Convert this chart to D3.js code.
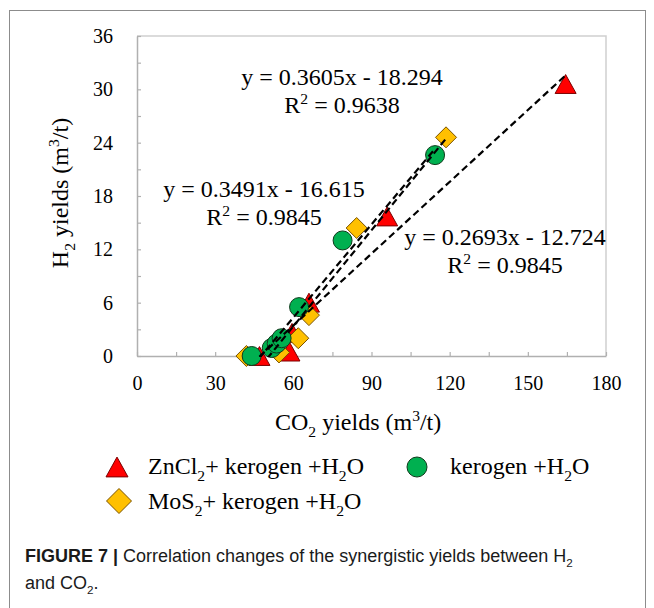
<!DOCTYPE html>
<html><head><meta charset="utf-8">
<script src="https://cdn.jsdelivr.net/npm/d3@7"></script>
<style>body{margin:0;background:#fff}svg{display:block}</style>
</head><body>
<svg id="chart" width="654" height="608"></svg>
<script>
// ---- data ----
const xTickLabels = [0, 30, 60, 90, 120, 150, 180];
const yTickLabels = [0, 6, 12, 18, 24, 30, 36];
const seriesNames = ["ZnCl2+ kerogen +H2O", "kerogen +H2O", "MoS2+ kerogen +H2O"];
const znclX = [47, 58.5, 59.5, 66, 96, 164.5];
const znclY = [0, 0.5, 2.6, 6.0, 15.7, 30.6];
const kerX = [44, 51.7, 53.6, 55.5, 62.2, 78.9, 114.4];
const kerY = [0, 0.9, 1.4, 2.0, 5.5, 13.0, 22.6];
const mosX = [42, 54.5, 61.9, 66, 84.3, 118.6];
const mosY = [0, 0.4, 2.0, 4.6, 14.4, 24.6];
const fitSlopes = [0.2693, 0.3491, 0.3605];
const fitIntercepts = [-12.724, -16.615, -18.294];
const fitR2 = ["0.9845", "0.9845", "0.9638"];

// ---- setup ----
const svg = d3.select("#chart");
const serif = "'Liberation Serif','Times New Roman',serif";
const W = 654, H = 608;
const x = d3.scaleLinear().domain([0, 180]).range([137, 606]);
const y = d3.scaleLinear().domain([0, 36]).range([356, 36]);

// outer frame
svg.append("rect").attr("x", 9.5).attr("y", 10.5).attr("width", 636).attr("height", 620)
  .attr("fill", "none").attr("stroke", "#8c8c8c").attr("stroke-width", 1);

// plot border (top/right)
svg.append("path")
  .attr("d", `M${x(0)},${y(36)}H${x(180)}V${y(0)}`)
  .attr("fill", "none").attr("stroke", "#d0d0d0").attr("stroke-width", 1.5);

function styleAxis(g) {
  g.selectAll(".domain").attr("stroke", "#b0b0b0").attr("stroke-width", 1.5);
  g.selectAll(".tick line").attr("stroke", "#b0b0b0").attr("stroke-width", 1.2);
  g.selectAll("text").attr("font-family", serif).attr("font-size", 20).attr("fill", "#000");
}

const xAxis = d3.axisBottom(x)
  .tickValues(d3.range(0, 181, 15))
  .tickFormat(d => xTickLabels.includes(d) ? d : "")
  .tickSize(-4).tickSizeOuter(0).tickPadding(20);
svg.append("g").attr("transform", `translate(0,${y(0)})`).call(xAxis).call(styleAxis);

const yAxis = d3.axisLeft(y)
  .tickValues(d3.range(0, 37, 3))
  .tickFormat(d => yTickLabels.includes(d) ? d : "")
  .tickSize(-4).tickSizeOuter(0).tickPadding(24);
svg.append("g").attr("transform", `translate(${x(0)},0)`).call(yAxis).call(styleAxis);

// rich text helper: segments [text, mode] mode: 0 normal, 1 sub, 2 sup
function rich(sel, segs, fs) {
  let shift = 0;
  segs.forEach(([t, m]) => {
    const target = m === 1 ? 0.28 * fs : m === 2 ? -0.38 * fs : 0;
    sel.append("tspan").attr("dy", target - shift)
      .attr("font-size", m ? fs * 0.65 : fs).text(t);
    shift = target;
  });
}

// axis titles
const xt = svg.append("text").attr("x", 275).attr("y", 430)
  .attr("font-family", serif).attr("font-size", 24);
rich(xt, [["CO", 0], ["2", 1], [" yields (m", 0], ["3", 2], ["/t)", 0]], 24);

const yt = svg.append("text").attr("transform", "translate(60,193) rotate(-90)")
  .attr("text-anchor", "middle").attr("y", 8)
  .attr("font-family", serif).attr("font-size", 24);
rich(yt, [["H", 0], ["2", 1], [" yields (m", 0], ["3", 2], ["/t)", 0]], 24);

// custom symbols (bounding-box centred)
const triSym = { draw(ctx, s) { const w = s, h = s * 0.9; ctx.moveTo(0, -h / 2); ctx.lineTo(w / 2, h / 2); ctx.lineTo(-w / 2, h / 2); ctx.closePath(); } };
const diaSym = { draw(ctx, s) { const r = s / 2; ctx.moveTo(0, -r); ctx.lineTo(r, 0); ctx.lineTo(0, r); ctx.lineTo(-r, 0); ctx.closePath(); } };

const clip = svg.append("clipPath").attr("id", "pa").append("rect")
  .attr("x", x(0)).attr("y", y(36)).attr("width", x(180) - x(0)).attr("height", y(0) - y(36) + 1);

const styles = [
  { X: znclX, Y: znclY, fill: "#ff0000", stroke: "#7a0000" },
  { X: kerX, Y: kerY, fill: "#00b050", stroke: "#103a1c" },
  { X: mosX, Y: mosY, fill: "#ffc000", stroke: "#7a5200" }
];

// markers: triangles, diamonds, then circles on top
const plot = svg.append("g");
plot.selectAll(".tri").data(d3.zip(znclX, znclY)).join("path")
  .attr("d", d3.symbol(triSym, 21)())
  .attr("transform", d => `translate(${x(d[0])},${y(d[1])})`)
  .attr("fill", styles[0].fill).attr("stroke", styles[0].stroke).attr("stroke-width", 1);
plot.selectAll(".dia").data(d3.zip(mosX, mosY)).join("path")
  .attr("d", d3.symbol(diaSym, 21)())
  .attr("transform", d => `translate(${x(d[0])},${y(d[1])})`)
  .attr("fill", styles[2].fill).attr("stroke", styles[2].stroke).attr("stroke-width", 1);
plot.selectAll(".cir").data(d3.zip(kerX, kerY)).join("circle")
  .attr("cx", d => x(d[0])).attr("cy", d => y(d[1])).attr("r", 9.5)
  .attr("fill", styles[1].fill).attr("stroke", styles[1].stroke).attr("stroke-width", 1);

// trend lines
const trendG = svg.append("g").attr("clip-path", "url(#pa)");
const seriesX = [znclX, kerX, mosX];
fitSlopes.forEach((a, i) => {
  const b = fitIntercepts[i];
  const [x0, x1] = d3.extent(seriesX[i]);
  trendG.append("line")
    .attr("x1", x(x0)).attr("y1", y(a * x0 + b))
    .attr("x2", x(x1)).attr("y2", y(a * x1 + b))
    .attr("stroke", "#000").attr("stroke-width", 2.2).attr("stroke-dasharray", "7,4");
});

// equation labels
const eqPos = [[505, 245], [264, 197], [342, 85]];
fitSlopes.forEach((a, i) => {
  const [ex, ey] = eqPos[i];
  svg.append("text").attr("x", ex).attr("y", ey).attr("text-anchor", "middle")
    .attr("font-family", serif).attr("font-size", 24)
    .text(`y = ${a.toFixed(4)}x - ${Math.abs(fitIntercepts[i]).toFixed(3)}`);
  const r = svg.append("text").attr("x", ex).attr("y", ey + 28).attr("text-anchor", "middle")
    .attr("font-family", serif).attr("font-size", 24);
  rich(r, [["R", 0], ["2", 2], [" = " + fitR2[i], 0]], 24);
});

// legend
const lg = svg.append("g");
lg.append("path").attr("d", d3.symbol(triSym, 22)()).attr("transform", "translate(117,467)")
  .attr("fill", styles[0].fill).attr("stroke", styles[0].stroke);
lg.append("circle").attr("cx", 417).attr("cy", 467).attr("r", 10)
  .attr("fill", styles[1].fill).attr("stroke", styles[1].stroke);
lg.append("path").attr("d", d3.symbol(diaSym, 25)()).attr("transform", "translate(119,501)")
  .attr("fill", styles[2].fill).attr("stroke", styles[2].stroke);
const l1 = lg.append("text").attr("x", 148).attr("y", 474).attr("font-family", serif).attr("font-size", 24);
rich(l1, [["ZnCl", 0], ["2", 1], ["+ kerogen +H", 0], ["2", 1], ["O", 0]], 24);
const l2 = lg.append("text").attr("x", 450).attr("y", 474).attr("font-family", serif).attr("font-size", 24);
rich(l2, [["kerogen +H", 0], ["2", 1], ["O", 0]], 24);
const l3 = lg.append("text").attr("x", 148).attr("y", 509).attr("font-family", serif).attr("font-size", 24);
rich(l3, [["MoS", 0], ["2", 1], ["+ kerogen +H", 0], ["2", 1], ["O", 0]], 24);

// caption
const sans = "'Liberation Sans',Arial,sans-serif";
const c1 = svg.append("text").attr("x", 25).attr("y", 562).attr("font-family", sans).attr("font-size", 18).attr("fill", "#1a1a1a");
c1.append("tspan").attr("font-weight", "bold").text("FIGURE 7 | ");
rich(c1, [["Correlation changes of the synergistic yields between H", 0], ["2", 1]], 18);
const c2 = svg.append("text").attr("x", 25).attr("y", 589).attr("font-family", sans).attr("font-size", 18).attr("fill", "#1a1a1a");
rich(c2, [["and CO", 0], ["2", 1], [".", 0]], 18);
</script>
</body></html>
